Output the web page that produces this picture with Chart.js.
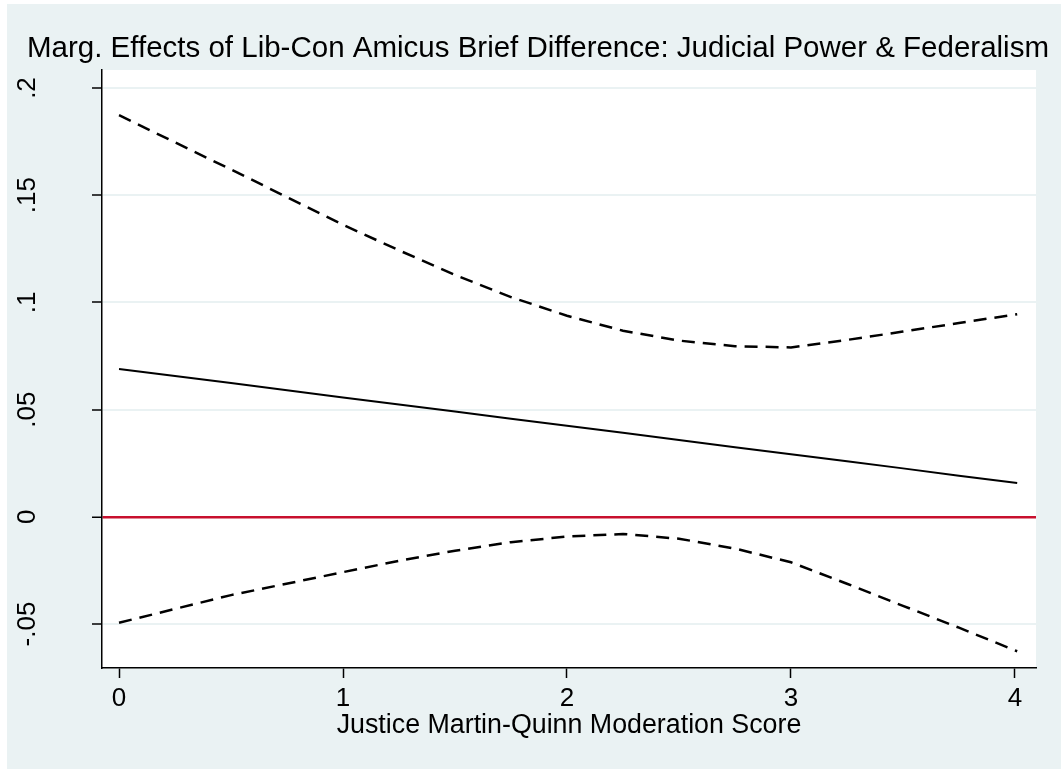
<!DOCTYPE html>
<html lang="en">
<head>
  <meta charset="UTF-8">
  <title>Marginal Effects</title>
  <script src="https://cdn.jsdelivr.net/npm/chart.js"></script>
  <style>
    html, body { margin: 0; padding: 0; background: #fff; }
    #wrap { width: 1061px; height: 769px; position: relative; }
  </style>
</head>
<body>
  <div id="wrap"><canvas id="mfx"></canvas></div>

  <script>
    // Moderation score grid and estimates
    const moderation = [0, 0.5, 1, 1.25, 1.5, 1.75, 2, 2.25, 2.5, 2.75, 3, 3.25, 3.5, 3.75, 4.01];
    const marginalEffect = [0.0690, 0.0624, 0.0557, 0.0524, 0.0491, 0.0458, 0.0425, 0.0392, 0.0358, 0.0325, 0.0292, 0.0259, 0.0226, 0.0192, 0.0158];
    const upperBound = [0.1873, 0.1620, 0.1362, 0.1243, 0.1128, 0.1025, 0.0938, 0.0868, 0.0822, 0.0796, 0.0790, 0.0825, 0.0864, 0.0904, 0.0945];
    const lowerBound = [-0.0494, -0.0365, -0.0258, -0.0205, -0.0158, -0.0118, -0.0092, -0.0080, -0.0102, -0.0148, -0.0212, -0.0312, -0.0415, -0.0517, -0.0627];

    // Axis ticks
    const xTicks = [0, 1, 2, 3, 4];
    const xTickLabels = ['0', '1', '2', '3', '4'];
    const yTicks = [-0.05, 0, 0.05, 0.1, 0.15, 0.2];
    const yTickLabels = ['-.05', '0', '.05', '.1', '.15', '.2'];

    const FONT = "'Liberation Sans', Arial, Helvetica, sans-serif";
    const BG = '#eaf2f3';
    const RED = '#c8102e';

    const pts = vals => moderation.map((x, i) => ({ x: x, y: vals[i] }));
    const isZero = c => c.tick && Math.abs(c.tick.value) < 1e-9;

    // outer panel + white plot region
    const panels = {
      id: 'panels',
      beforeDraw(chart) {
        const { ctx, width, height, chartArea: a } = chart;
        ctx.save();
        ctx.fillStyle = '#fff';
        ctx.fillRect(0, 0, width, height);
        ctx.fillStyle = BG;
        ctx.fillRect(7, 4, width - 7, height - 4);
        ctx.fillStyle = '#fff';
        ctx.fillRect(a.left, a.top, a.right - a.left, a.bottom - a.top);
        ctx.restore();
      }
    };

    new Chart(document.getElementById('mfx'), {
      type: 'line',
      data: {
        datasets: [
          {
            label: 'Upper bound',
            data: pts(upperBound),
            borderColor: '#000',
            borderWidth: 2.5,
            borderDash: [13, 8],
            pointRadius: 0,
            tension: 0
          },
          {
            label: 'Marginal effect',
            data: pts(marginalEffect),
            borderColor: '#000',
            borderWidth: 2,
            pointRadius: 0,
            tension: 0
          },
          {
            label: 'Lower bound',
            data: pts(lowerBound),
            borderColor: '#000',
            borderWidth: 2.5,
            borderDash: [13, 8],
            pointRadius: 0,
            tension: 0
          }
        ]
      },
      options: {
        responsive: true,
        maintainAspectRatio: false,
        animation: false,
        layout: { padding: { left: 15, right: 0, top: 0, bottom: 0 } },
        plugins: {
          legend: { display: false },
          tooltip: { enabled: false },
          title: {
            display: true,
            text: 'Marg. Effects of Lib-Con Amicus Brief Difference: Judicial Power & Federalism',
            color: '#000',
            font: { family: FONT, size: 29.5, weight: 'normal', lineHeight: 1.2 },
            padding: { top: 31.6, bottom: 3 }
          }
        },
        scales: {
          x: {
            type: 'linear',
            min: -0.076,
            max: 4.094,
            afterBuildTicks: s => { s.ticks = xTicks.map(v => ({ value: v })); },
            afterFit: s => { s.height = 101; },
            ticks: {
              color: '#000',
              padding: 5,
              font: { family: FONT, size: 26 },
              callback: v => xTickLabels[xTicks.indexOf(v)]
            },
            grid: {
              drawOnChartArea: false,
              drawTicks: true,
              tickLength: 10,
              tickColor: '#000',
              tickWidth: 1.5
            },
            border: { display: true, color: '#000', width: 1.5 },
            title: {
              display: true,
              text: 'Justice Martin-Quinn Moderation Score',
              color: '#000',
              font: { family: FONT, size: 26.8, lineHeight: 1.2 },
              padding: { top: 0, bottom: 27 }
            }
          },
          y: {
            type: 'linear',
            min: -0.0705,
            max: 0.2084,
            afterBuildTicks: s => { s.ticks = yTicks.map(v => ({ value: v })); },
            afterFit: s => { s.width = 87; },
            ticks: {
              color: '#000',
              padding: 41.6,
              minRotation: 90,
              maxRotation: 90,
              crossAlign: 'center',
              font: { family: FONT, size: 26 },
              callback: v => yTickLabels[yTicks.findIndex(t => Math.abs(t - v) < 1e-9)]
            },
            grid: {
              color: c => isZero(c) ? RED : BG,
              lineWidth: c => isZero(c) ? 2.5 : 2,
              drawTicks: true,
              tickLength: 10,
              tickColor: '#000',
              tickWidth: 1.5
            },
            border: { display: true, color: '#000', width: 1.5 }
          },
          // empty right margin of the plot region
          gap: {
            type: 'linear',
            position: 'right',
            afterFit: s => { s.width = 25; },
            grid: { display: false },
            ticks: { display: false },
            border: { display: false }
          }
        }
      },
      plugins: [panels]
    });
  </script>
</body>
</html>
